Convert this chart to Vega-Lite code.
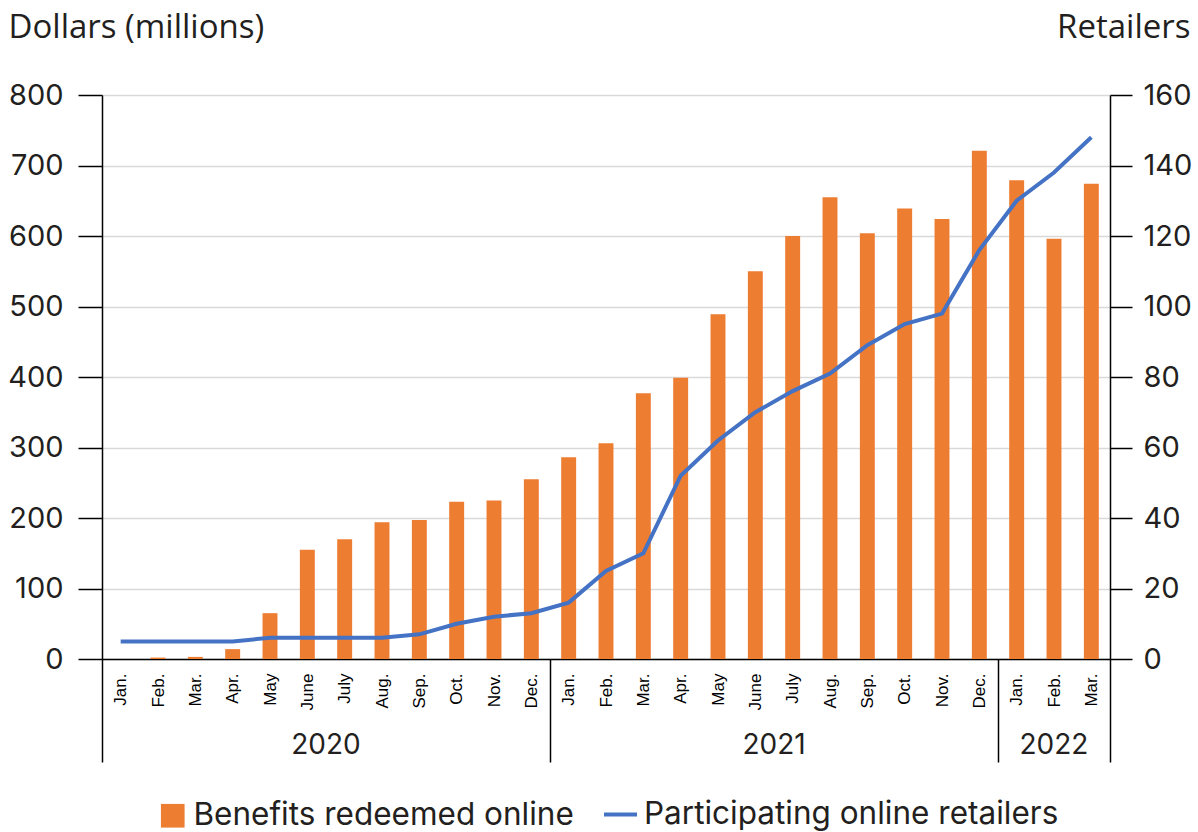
{
  "$schema": "https://vega.github.io/schema/vega-lite/v6.json",
  "width": 1008,
  "height": 564,
  "autosize": {"type": "none"},
  "padding": {"left": 102, "top": 95, "right": 88, "bottom": 173},
  "background": "white",
  "config": {"view": {"stroke": null}, "font": "Inter", "legend": {"layout": {"bottom": {"anchor": "middle", "margin": 24}}}},
  "data": {
    "values": [
      {"period": "2020-01", "dollars": 0, "retailers": 5},
      {"period": "2020-02", "dollars": 2, "retailers": 5},
      {"period": "2020-03", "dollars": 3, "retailers": 5},
      {"period": "2020-04", "dollars": 14, "retailers": 5},
      {"period": "2020-05", "dollars": 65, "retailers": 6},
      {"period": "2020-06", "dollars": 155, "retailers": 6},
      {"period": "2020-07", "dollars": 170, "retailers": 6},
      {"period": "2020-08", "dollars": 194, "retailers": 6},
      {"period": "2020-09", "dollars": 197, "retailers": 7},
      {"period": "2020-10", "dollars": 223, "retailers": 10},
      {"period": "2020-11", "dollars": 225, "retailers": 12},
      {"period": "2020-12", "dollars": 255, "retailers": 13},
      {"period": "2021-01", "dollars": 286, "retailers": 16},
      {"period": "2021-02", "dollars": 306, "retailers": 25},
      {"period": "2021-03", "dollars": 377, "retailers": 30},
      {"period": "2021-04", "dollars": 399, "retailers": 52},
      {"period": "2021-05", "dollars": 489, "retailers": 62},
      {"period": "2021-06", "dollars": 550, "retailers": 70},
      {"period": "2021-07", "dollars": 600, "retailers": 76},
      {"period": "2021-08", "dollars": 655, "retailers": 81},
      {"period": "2021-09", "dollars": 604, "retailers": 89},
      {"period": "2021-10", "dollars": 639, "retailers": 95},
      {"period": "2021-11", "dollars": 624, "retailers": 98},
      {"period": "2021-12", "dollars": 721, "retailers": 116},
      {"period": "2022-01", "dollars": 679, "retailers": 130},
      {"period": "2022-02", "dollars": 596, "retailers": 138},
      {"period": "2022-03", "dollars": 674, "retailers": 148}
    ]
  },
  "layer": [
    {
      "mark": {"type": "bar", "width": {"band": 0.4}},
      "encoding": {
        "x": {
          "field": "period", "type": "ordinal", "sort": null,
          "scale": {"paddingInner": 0, "paddingOuter": 0},
          "axis": {
            "title": null,
            "orient": "bottom",
            "labelExpr": "['Jan.','Feb.','Mar.','Apr.','May','June','July','Aug.','Sep.','Oct.','Nov.','Dec.'][toNumber(substring(datum.value,5,7))-1]",
            "labelAngle": -90,
            "labelFont": "Liberation Sans",
            "labelFontSize": 17,
            "labelColor": "#000000",
            "labelOverlap": false,
            "tickBand": "extent",
            "tickSize": 103,
            "tickColor": "#000000",
            "tickWidth": 1.5,
            "tickOpacity": {"condition": {"test": "datum.extra || substring(datum.value,5,7)=='12' || datum.value=='2022-03'", "value": 1}, "value": 0},
            "labelPadding": -89,
            "domainColor": "#000000",
            "domainWidth": 1.5
          }
        },
        "y": {
          "field": "dollars", "type": "quantitative",
          "scale": {"domain": [0, 800]},
          "axis": {
            "title": "Dollars (millions)",
            "titleAngle": 0, "titleAlign": "left", "titleBaseline": "alphabetic",
            "titleX": -94, "titleY": -58,
            "titleFont": "Open Sans", "titleFontSize": 33, "titleFontWeight": "normal", "titleColor": "#231f20",
            "values": [0, 100, 200, 300, 400, 500, 600, 700, 800],
            "labelFontSize": 29, "labelColor": "#231f20", "labelPadding": 15,
            "tickSize": 24, "tickColor": "#000000", "tickWidth": 1.5,
            "domainColor": "#000000", "domainWidth": 1.5,
            "grid": true, "gridColor": "#d9d9d9", "gridWidth": 1.5
          }
        },
        "fill": {
          "datum": "Benefits redeemed online",
          "scale": {"range": ["#ED7D31"]},
          "legend": {
            "title": null, "orient": "bottom", "offset": 33, "padding": 4, "symbolType": "square", "symbolSize": 560,
            "labelFontSize": 31.5, "labelColor": "#231f20", "labelFont": "Inter", "labelLimit": 0, "labelOffset": 5,
            "symbolStrokeWidth": 0
          }
        }
      }
    },
    {
      "mark": {"type": "line", "strokeWidth": 4},
      "encoding": {
        "x": {
          "field": "period", "type": "ordinal", "sort": null,
          "axis": {
            "title": null,
            "orient": "bottom",
            "labelExpr": "datum.value=='2020-07' ? '2020' : datum.value=='2021-07' ? '2021' : datum.value=='2022-02' ? '2022' : ''",
            "labelAngle": 0,
            "labelFontSize": 28,
            "labelColor": "#231f20",
            "labelOverlap": false,
            "labelBound": false,
            "ticks": false,
            "domain": false,
            "labelOffset": {"condition": {"test": "datum.value=='2022-02'", "value": 0}, "value": -18.67},
            "labelPadding": 72
          }
        },
        "y": {
          "field": "retailers", "type": "quantitative",
          "scale": {"domain": [0, 160]},
          "axis": {
            "orient": "right",
            "title": "Retailers",
            "titleAngle": 0, "titleAlign": "right", "titleBaseline": "alphabetic",
            "titleX": 80, "titleY": -58,
            "titleFont": "Open Sans", "titleFontSize": 33, "titleFontWeight": "normal", "titleColor": "#231f20",
            "values": [0, 20, 40, 60, 80, 100, 120, 140, 160],
            "labelFontSize": 29, "labelColor": "#231f20", "labelPadding": 11,
            "tickSize": 22, "tickColor": "#000000", "tickWidth": 1.5,
            "domainColor": "#000000", "domainWidth": 1.5,
            "grid": false
          }
        },
        "stroke": {
          "datum": "Participating online retailers",
          "scale": {"range": ["#4472C4"]},
          "legend": {
            "title": null, "orient": "bottom", "offset": 33, "symbolType": "stroke", "symbolSize": 1089,
            "symbolStrokeWidth": 4, "labelOffset": 5,
            "labelFontSize": 31.5, "labelColor": "#231f20", "labelFont": "Inter", "labelLimit": 0
          }
        }
      }
    }
  ],
  "resolve": {
    "scale": {"y": "independent"},
    "axis": {"x": "independent", "y": "independent"}
  }
}
